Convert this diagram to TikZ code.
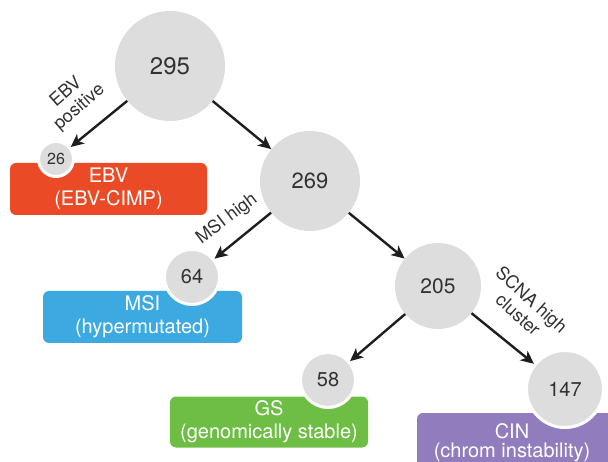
\documentclass[tikz,border=0pt]{standalone}
\usepackage{fontspec}
\setmainfont{TeX Gyre Heros}
\usetikzlibrary{arrows.meta}
\definecolor{ebvc}{RGB}{234,74,38}
\definecolor{msic}{RGB}{60,170,225}
\definecolor{gsc}{RGB}{110,190,70}
\definecolor{cinc}{RGB}{145,125,190}
\definecolor{circ}{RGB}{221,221,221}
\definecolor{txt}{RGB}{50,50,50}
\definecolor{arrc}{RGB}{30,30,30}
\begin{document}
\begin{tikzpicture}[x=1pt,y=-1pt,
  num/.style={circle, fill=circ, text=txt, inner sep=0pt},
  leaf/.style={num, draw=white, line width=3pt},
  box/.style={rectangle, rounded corners=6pt, inner sep=0pt, text=white, align=center,
              font=\fontsize{20}{23}\selectfont},
  arr/.style={-{Stealth[length=13pt,width=12pt,inset=3.5pt]}, line width=2.4pt, draw=arrc},
  lab/.style={text=txt, align=center, inner sep=0pt, font=\fontsize{18}{20}\selectfont}]
\clip (0,0) rectangle (608,462);
% boxes
\node[box, fill=ebvc, minimum width=197pt, minimum height=52pt] (ebvbox) at (108.5,189) {EBV\\(EBV-CIMP)};
\node[box, fill=msic, minimum width=199pt, minimum height=52pt] (msibox) at (142.5,317) {MSI\\(hypermutated)};
\node[box, fill=gsc, minimum width=198pt, minimum height=51pt] (gsbox) at (269,422) {GS\\(genomically stable)};
\node[box, fill=cinc, minimum width=200pt, minimum height=66pt] (cinbox) at (517,446) {};
\node[text=white, align=center, inner sep=0pt, font=\fontsize{20}{19}\selectfont] (cintext) at (512,443) {CIN\\(chrom instability)};
% circles
\node[num, minimum size=110pt, font=\fontsize{24}{24}\selectfont] (n295) at (170,66) {295};
\node[num, minimum size=100pt, font=\fontsize{22}{22}\selectfont] (n269) at (310,181) {269};
\node[num, minimum size=86pt, font=\fontsize{21}{21}\selectfont] (n205) at (438,286) {205};
\node[leaf, minimum size=35pt, font=\fontsize{16}{16}\selectfont] (n26) at (56,159) {26};
\node[leaf, minimum size=55pt, font=\fontsize{20}{20}\selectfont] (n64) at (192,277) {64};
\node[leaf, minimum size=55pt, font=\fontsize{20}{20}\selectfont] (n58) at (328,380) {58};
\node[leaf, minimum size=77pt, font=\fontsize{20}{20}\selectfont] (n147) at (565,389) {147};
% arrows
\draw[arr] (n295) -- (n26);
\draw[arr] (n295) -- (n269);
\draw[arr] (n269) -- (n64);
\draw[arr] (n269) -- (n205);
\draw[arr] (n205) -- (n58);
\draw[arr] (n205) -- (n147);
% labels
\node[lab, rotate=41] (lebv) at (73,100) {EBV\\positive};
\node[lab, rotate=37] (lmsi) at (227,219) {MSI high};
\node[lab, rotate=-42] (lscna) at (525,307) {SCNA high\\cluster};
\end{tikzpicture}
\end{document}
